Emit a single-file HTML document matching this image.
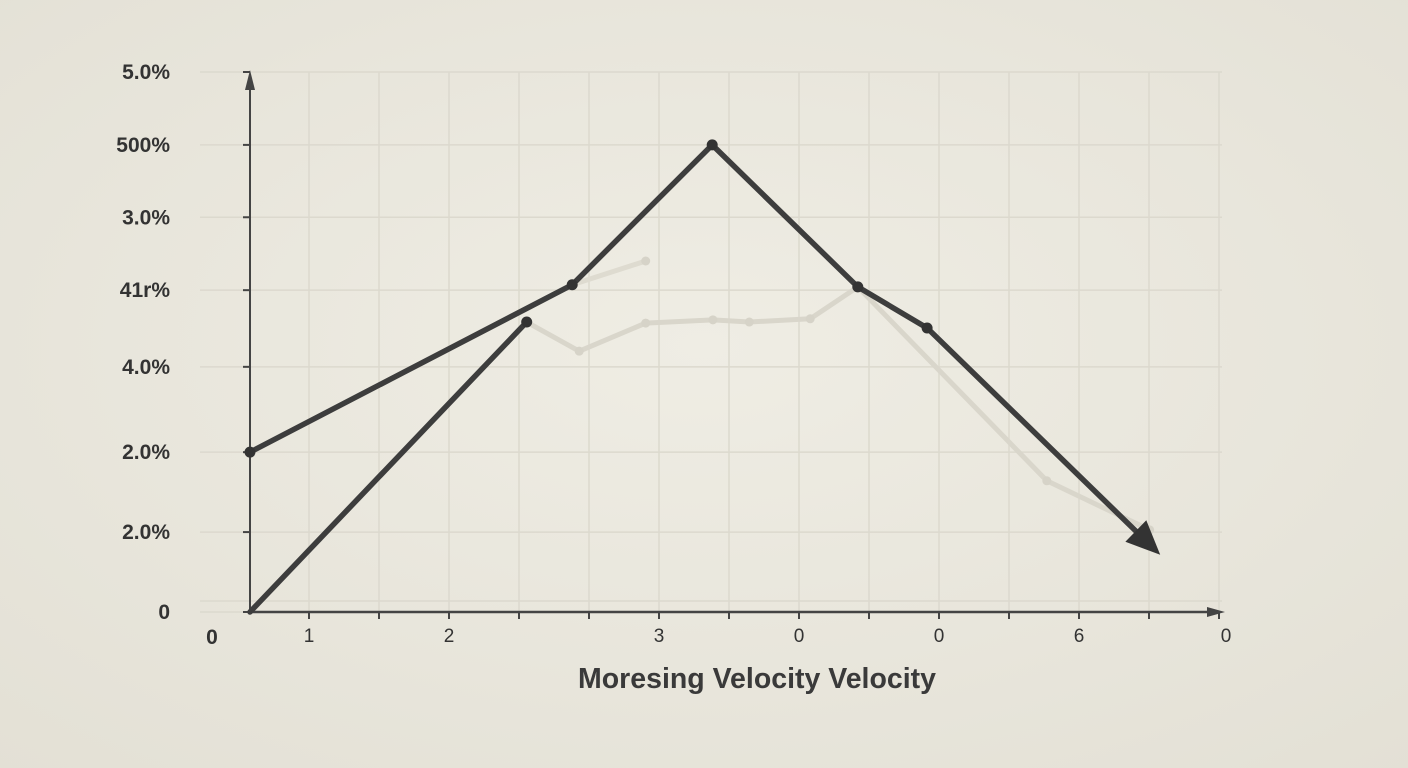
<!DOCTYPE html>
<html><head><meta charset="utf-8"><style>
html,body{margin:0;padding:0;width:1408px;height:768px;overflow:hidden;background:#ebe8de;}
svg{display:block;font-family:"Liberation Sans",sans-serif;}
</style></head><body>
<svg id="chart" width="1408" height="768" viewBox="0 0 1408 768" xmlns="http://www.w3.org/2000/svg">
<defs><radialGradient id="bg" cx="50%" cy="45%" r="75%"><stop offset="0" stop-color="#efede4"/><stop offset="1" stop-color="#e3e0d5"/></radialGradient></defs>
<rect width="1408" height="768" fill="url(#bg)"/>
<g id="grid"></g>
<g id="axes"></g>
<g id="series"></g>
<text x="757" y="688" text-anchor="middle" font-size="28.5" font-weight="bold" fill="#3a3a3a">Moresing Velocity Velocity</text>
</svg>
<script>
const yTickValues=[100,86.5,73.1,59.6,45.4,29.6,14.8,0];
const yTickLabels=["5.0%","500%","3.0%","41r%","4.0%","2.0%","2.0%","0"];
const xTickValues=[1,3,6,8,10,12,14.1];
const xTickLabels=["1","2","3","0","0","6","0"];
const seriesAx=[0.157,4.76,6.76,8.84,9.83,13.16];
const seriesAy=[29.6,60.6,86.5,60.2,52.6,10.6];
const seriesBx=[0.157,4.11];
const seriesBy=[0,53.7];
const seriesCx=[4.11,4.86,5.81,6.77,7.29,8.16,8.84,11.54,13.01];
const seriesCy=[53.7,48.3,53.5,54.1,53.7,54.3,60.2,24.3,15.2];
const seriesDx=[4.76,5.81];
const seriesDy=[60.6,65.0];

const NS="http://www.w3.org/2000/svg";
function X(v){return 239+70*v;}
function Y(v){return 612-5.4*v;}
function mk(t,a,p){const e=document.createElementNS(NS,t);for(const k in a)e.setAttribute(k,a[k]);p.appendChild(e);return e;}
const grid=document.getElementById('grid'),axes=document.getElementById('axes'),ser=document.getElementById('series');
for(let i=1;i<=14;i++){const l=mk('line',{x1:X(i),x2:X(i),y1:72,y2:612,stroke:'#dcd9ce','stroke-width':1.5},grid);

}
mk('line',{x1:200,x2:1222,y1:601,y2:601,stroke:'#dcd9ce','stroke-width':1.5},grid);
yTickValues.forEach((v,i)=>{
 const g=mk('line',{x1:200,x2:1222,y1:Y(v),y2:Y(v),stroke:'#dcd9ce','stroke-width':1.5},grid);
 
 
 mk('line',{x1:243,x2:250,y1:Y(v),y2:Y(v),stroke:'#444','stroke-width':2},axes);
 const t=mk('text',{x:170,y:Y(v)+7,'text-anchor':'end','font-size':21,'font-weight':'bold',fill:'#333'},axes);
 t.textContent=yTickLabels[i];
 
 
});
for(let i=1;i<=14;i++){mk('line',{x1:X(i),x2:X(i),y1:612,y2:619,stroke:'#444','stroke-width':2},axes);}
xTickValues.forEach((v,i)=>{
 const t=mk('text',{x:X(v),y:642,'text-anchor':'middle','font-size':19,fill:'#333'},axes);
 t.textContent=xTickLabels[i];
 
 
});
const o=mk('text',{x:212,y:644,'text-anchor':'middle','font-size':21,'font-weight':'bold',fill:'#333'},axes);o.textContent='0';


mk('line',{x1:250,x2:250,y1:612,y2:82,stroke:'#444','stroke-width':2},axes);
mk('polygon',{points:'250,70 245,90 255,90',fill:'#444'},axes);
mk('line',{x1:250,x2:1214,y1:612,y2:612,stroke:'#444','stroke-width':2.5},axes);
mk('polygon',{points:'1225,612 1207,607 1207,617',fill:'#444'},axes);
function draw(xs,ys,color,w,name){
 const pts=xs.map((x,i)=>X(x)+','+Y(ys[i])).join(' ');
 const pl=mk('polyline',{points:pts,fill:'none',stroke:color,'stroke-width':w,'stroke-linejoin':'round','stroke-linecap':'round'},ser);
 
 
}
draw(seriesDx,seriesDy,'#dedbd0',5,'series-d');
draw(seriesCx,seriesCy,'#d9d6cb',5,'series-c');
[seriesCx,seriesDx].forEach((xs,k)=>{const ys=k?seriesDy:seriesCy;xs.forEach((x,i)=>{const c=mk('circle',{cx:X(x),cy:Y(ys[i]),r:4.5,fill:'#d6d3c8'},ser);

});});
draw(seriesBx,seriesBy,'#3d3d3d',5.5,'series-b');
const pA=seriesAx.length;
const x1=X(seriesAx[pA-2]),y1=Y(seriesAy[pA-2]),x2=X(seriesAx[pA-1]),y2=Y(seriesAy[pA-1]);
const ang=Math.atan2(y2-y1,x2-x1),L=34,W=15;
const bx=x2-L*Math.cos(ang),by=y2-L*Math.sin(ang);
draw(seriesAx.slice(0,pA-1).concat([(bx-239)/70]),seriesAy.slice(0,pA-1).concat([(612-by)/5.4]),'#3d3d3d',5.5,'series-a');
seriesAx.slice(0,pA-1).forEach((x,i)=>{const c=mk('circle',{cx:X(x),cy:Y(seriesAy[i]),r:5.5,fill:'#333'},ser);

});
{const c=mk('circle',{cx:X(seriesBx[1]),cy:Y(seriesBy[1]),r:5.5,fill:'#333'},ser);

}
const ah=mk('polygon',{points:`${x2},${y2} ${bx+W*Math.sin(ang)},${by-W*Math.cos(ang)} ${bx-W*Math.sin(ang)},${by+W*Math.cos(ang)}`,fill:'#333'},ser);


</script>
</body></html>
